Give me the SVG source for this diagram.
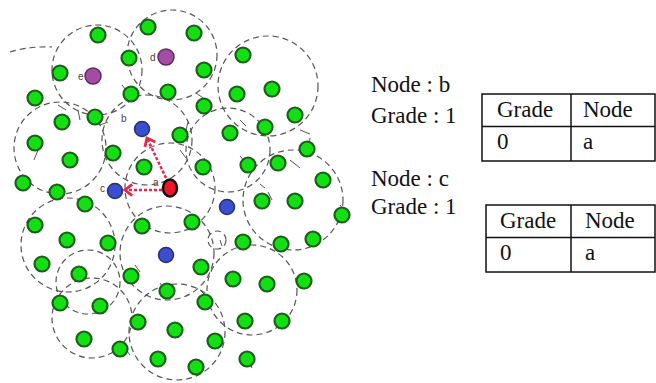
<svg xmlns="http://www.w3.org/2000/svg" width="656" height="383" viewBox="0 0 656 383">
<style>
.rng{fill:none;stroke:#555;stroke-width:1.2;stroke-dasharray:6 4}
.tick{stroke:#555;stroke-width:1;fill:none}
.g{fill:#12e012;stroke:#1a5e1a;stroke-width:2.2}
.p{fill:#a44ca4;stroke:#5c2c5c;stroke-width:1.5}
.b{fill:#3a4ed0;stroke:#26306e;stroke-width:1.5}
.r{fill:#f01428;stroke:#111;stroke-width:2.5}
.lbl{font-family:"Liberation Sans",Arial,sans-serif;font-size:10px;fill:#444}
.t{font-family:"Liberation Serif","Times New Roman",serif;font-size:23px;fill:#111}
.tb{fill:none;stroke:#111;stroke-width:1.5}
.arr{stroke:#e8264a;stroke-width:2.6;stroke-dasharray:3 2;fill:none}
</style>
<defs>
<marker id="ah" viewBox="0 0 8 10" refX="6" refY="5" markerWidth="4.5" markerHeight="5.5" orient="auto" markerUnits="strokeWidth">
<path d="M1,1 L6,5 L1,9" fill="none" stroke="#e8264a" stroke-width="2"/>
</marker>
</defs>
<g id="ranges">
<circle class="rng" cx="97" cy="70" r="45"/>
<circle class="rng" cx="172" cy="55" r="45"/>
<circle class="rng" cx="268" cy="86" r="50"/>
<circle class="rng" cx="60" cy="148" r="46"/>
<circle class="rng" cx="147" cy="140" r="45"/>
<circle class="rng" cx="228" cy="150" r="42"/>
<circle class="rng" cx="293" cy="200" r="50"/>
<circle class="rng" cx="170" cy="188" r="45"/>
<circle class="rng" cx="68" cy="245" r="47"/>
<circle class="rng" cx="88" cy="282" r="32"/>
<circle class="rng" cx="167" cy="253" r="47"/>
<circle class="rng" cx="252" cy="290" r="45"/>
<circle class="rng" cx="92" cy="318" r="40"/>
<circle class="rng" cx="177" cy="332" r="48"/>
<path class="rng" d="M10,52 Q30,46 52,47"/>
<circle class="rng" cx="217" cy="240" r="9"/>
</g>
<g id="ticks">
<path class="tick" d="M122,85 L132,98 M58,105 L66,110 M78,110 L80,120 M38,150 L34,160 M196,93 L206,100 M205,100 L212,108 M240,120 L246,126 M112,148 L116,160 M188,122 L186,130 M300,130 L310,134 M310,138 L308,146 M240,156 L252,170 M290,160 L300,168 M102,240 L112,250 M135,265 L140,272 M200,290 L210,300 M220,240 L222,246 M268,192 L272,200 M340,205 L345,212 M120,342 L130,355 M160,283 L168,296 M248,355 L252,368 M180,150 L186,158 M100,125 L108,122 M260,184 L265,188"/>
</g>
<g id="connectors">
<line class="arr" x1="162" y1="190" x2="125" y2="190" marker-end="url(#ah)"/>
<line class="arr" x1="166" y1="178" x2="147" y2="138" marker-end="url(#ah)"/>
</g>
<g id="green-nodes">
<g id="n1"><circle class="g" cx="148" cy="27" r="7.5"/></g>
<g id="n2"><circle class="g" cx="194" cy="33" r="7.5"/></g>
<g id="n3"><circle class="g" cx="98" cy="35" r="7.5"/></g>
<g id="n4"><circle class="g" cx="129" cy="58" r="7.5"/></g>
<g id="n5"><circle class="g" cx="243" cy="55" r="7.5"/></g>
<g id="n6"><circle class="g" cx="204" cy="70" r="7.5"/></g>
<g id="n7"><circle class="g" cx="60" cy="73" r="7.5"/></g>
<g id="n8"><circle class="g" cx="35" cy="98" r="7.5"/></g>
<g id="n9"><circle class="g" cx="131" cy="94" r="7.5"/></g>
<g id="n10"><circle class="g" cx="168" cy="92" r="7.5"/></g>
<g id="n11"><circle class="g" cx="237" cy="94" r="7.5"/></g>
<g id="n12"><circle class="g" cx="272" cy="89" r="7.5"/></g>
<g id="n13"><circle class="g" cx="204" cy="106" r="7.5"/></g>
<g id="n14"><circle class="g" cx="295" cy="115" r="7.5"/></g>
<g id="n15"><circle class="g" cx="62" cy="122" r="7.5"/></g>
<g id="n16"><circle class="g" cx="95" cy="117" r="7.5"/></g>
<g id="n17"><circle class="g" cx="180" cy="135" r="7.5"/></g>
<g id="n18"><circle class="g" cx="230" cy="133" r="7.5"/></g>
<g id="n19"><circle class="g" cx="265" cy="127" r="7.5"/></g>
<g id="n20"><circle class="g" cx="35" cy="143" r="7.5"/></g>
<g id="n21"><circle class="g" cx="113" cy="153" r="7.5"/></g>
<g id="n22"><circle class="g" cx="70" cy="160" r="7.5"/></g>
<g id="n23"><circle class="g" cx="144" cy="167" r="7.5"/></g>
<g id="n24"><circle class="g" cx="307" cy="149" r="7.5"/></g>
<g id="n25"><circle class="g" cx="203" cy="167" r="7.5"/></g>
<g id="n26"><circle class="g" cx="248" cy="165" r="7.5"/></g>
<g id="n27"><circle class="g" cx="278" cy="163" r="7.5"/></g>
<g id="n28"><circle class="g" cx="323" cy="180" r="7.5"/></g>
<g id="n29"><circle class="g" cx="23" cy="183" r="7.5"/></g>
<g id="n30"><circle class="g" cx="57" cy="192" r="7.5"/></g>
<g id="n31"><circle class="g" cx="85" cy="204" r="7.5"/></g>
<g id="n32"><circle class="g" cx="262" cy="201" r="7.5"/></g>
<g id="n33"><circle class="g" cx="295" cy="201" r="7.5"/></g>
<g id="n34"><circle class="g" cx="342" cy="215" r="7.5"/></g>
<g id="n35"><circle class="g" cx="192" cy="222" r="7.5"/></g>
<g id="n36"><circle class="g" cx="142" cy="226" r="7.5"/></g>
<g id="n37"><circle class="g" cx="35" cy="225" r="7.5"/></g>
<g id="n38"><circle class="g" cx="67" cy="240" r="7.5"/></g>
<g id="n39"><circle class="g" cx="108" cy="243" r="7.5"/></g>
<g id="n40"><circle class="g" cx="243" cy="242" r="7.5"/></g>
<g id="n41"><circle class="g" cx="281" cy="244" r="7.5"/></g>
<g id="n42"><circle class="g" cx="313" cy="239" r="7.5"/></g>
<g id="n43"><circle class="g" cx="42" cy="264" r="7.5"/></g>
<g id="n44"><circle class="g" cx="79" cy="274" r="7.5"/></g>
<g id="n45"><circle class="g" cx="131" cy="276" r="7.5"/></g>
<g id="n46"><circle class="g" cx="201" cy="267" r="7.5"/></g>
<g id="n47"><circle class="g" cx="233" cy="279" r="7.5"/></g>
<g id="n48"><circle class="g" cx="267" cy="284" r="7.5"/></g>
<g id="n49"><circle class="g" cx="304" cy="281" r="7.5"/></g>
<g id="n50"><circle class="g" cx="167" cy="291" r="7.5"/></g>
<g id="n51"><circle class="g" cx="60" cy="303" r="7.5"/></g>
<g id="n52"><circle class="g" cx="100" cy="306" r="7.5"/></g>
<g id="n53"><circle class="g" cx="205" cy="302" r="7.5"/></g>
<g id="n54"><circle class="g" cx="138" cy="322" r="7.5"/></g>
<g id="n55"><circle class="g" cx="175" cy="330" r="7.5"/></g>
<g id="n56"><circle class="g" cx="245" cy="321" r="7.5"/></g>
<g id="n57"><circle class="g" cx="282" cy="321" r="7.5"/></g>
<g id="n58"><circle class="g" cx="84" cy="339" r="7.5"/></g>
<g id="n59"><circle class="g" cx="120" cy="349" r="7.5"/></g>
<g id="n60"><circle class="g" cx="215" cy="341" r="7.5"/></g>
<g id="n61"><circle class="g" cx="158" cy="359" r="7.5"/></g>
<g id="n62"><circle class="g" cx="247" cy="359" r="7.5"/></g>
<g id="n63"><circle class="g" cx="196" cy="367" r="7.5"/></g>
</g>
<g id="node-d"><circle class="p" cx="166" cy="57" r="8"/><text class="lbl" x="150" y="61">d</text></g>
<g id="node-e"><circle class="p" cx="93" cy="76" r="8"/><text class="lbl" x="78" y="80">e</text></g>
<g id="node-b"><circle class="b" cx="142" cy="129" r="7.5"/><text class="lbl" x="121" y="122">b</text></g>
<g id="node-c"><circle class="b" cx="115" cy="191" r="7.5"/><text class="lbl" x="100" y="192">c</text></g>
<g id="node-x1"><circle class="b" cx="227" cy="207" r="7.5"/></g>
<g id="node-x2"><circle class="b" cx="166" cy="255" r="7.5"/></g>
<g id="node-a"><ellipse class="r" cx="170" cy="188" rx="7" ry="8.5"/><text class="lbl" x="153" y="186">a</text></g>
<g id="info-b">
<text class="t" x="371" y="92">Node : b</text>
<text class="t" x="371" y="123">Grade : 1</text>
</g>
<g id="table-b">
<rect class="tb" x="482" y="94" width="173" height="67"/>
<line class="tb" x1="482" y1="126.5" x2="655" y2="126.5"/>
<line class="tb" x1="571" y1="94" x2="571" y2="161"/>
<text class="t" x="497" y="117">Grade</text>
<text class="t" x="583" y="117">Node</text>
<text class="t" x="497" y="149">0</text>
<text class="t" x="583" y="149">a</text>
</g>
<g id="info-c">
<text class="t" x="371" y="186">Node : c</text>
<text class="t" x="371" y="214">Grade : 1</text>
</g>
<g id="table-c">
<rect class="tb" x="486" y="205" width="169" height="67"/>
<line class="tb" x1="486" y1="237.5" x2="655" y2="237.5"/>
<line class="tb" x1="571" y1="205" x2="571" y2="272"/>
<text class="t" x="500" y="228">Grade</text>
<text class="t" x="585" y="228">Node</text>
<text class="t" x="500" y="260">0</text>
<text class="t" x="585" y="260">a</text>
</g>
</svg>
